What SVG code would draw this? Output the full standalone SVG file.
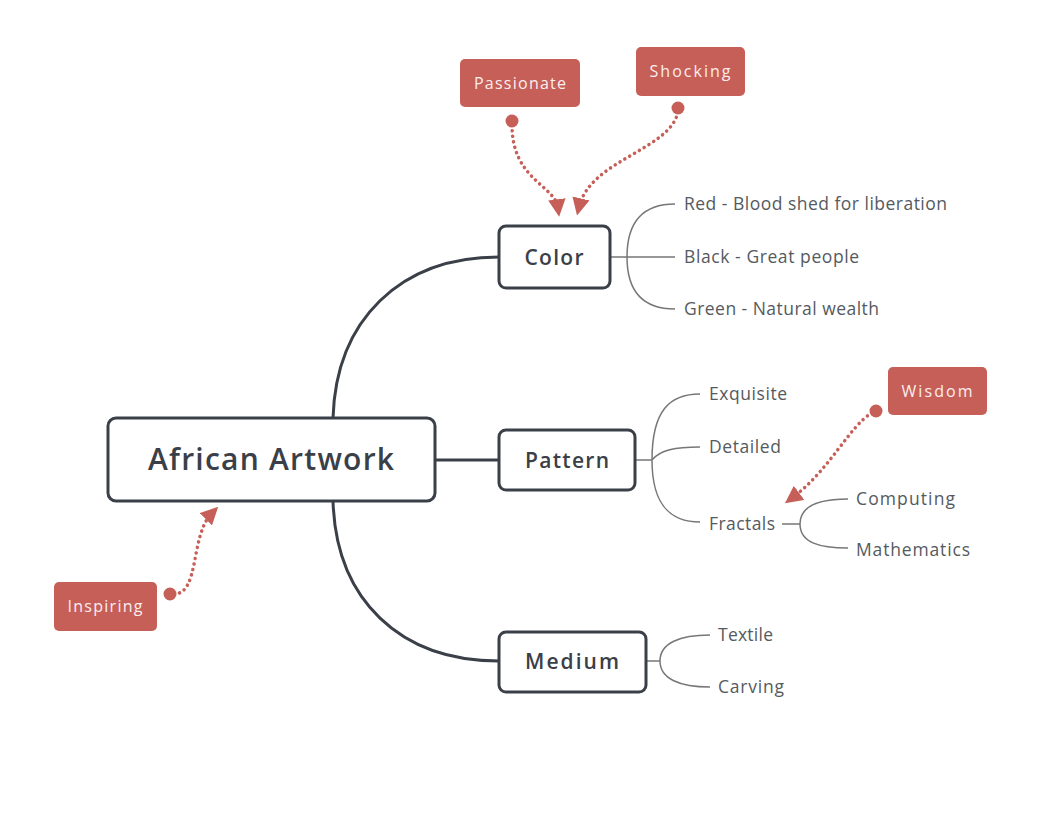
<svg xmlns="http://www.w3.org/2000/svg" width="1058" height="836" viewBox="0 0 1058 836">
<style>
.main{fill:#fff;stroke:#3b4048;stroke-width:3}
.red{fill:#c65f58}
.mt{font-family:"Open Sans","Liberation Sans",sans-serif;fill:#3b4048;font-weight:600;text-anchor:middle}
.lt{font-family:"Open Sans","Liberation Sans",sans-serif;fill:#555a60;font-size:17.5px}
.rt{font-family:"Open Sans","Liberation Sans",sans-serif;fill:#fbeeee;font-size:16px;text-anchor:middle}
.trunk{fill:none;stroke:#3b4048;stroke-width:3}
.br{fill:none;stroke:#777;stroke-width:1.5}
.dot{fill:none;stroke:#c65f58;stroke-width:3.5;stroke-dasharray:0.1 5.5;stroke-linecap:round}
</style>
<defs>
<marker id="ah" viewBox="0 0 10 10" refX="5" refY="5" markerWidth="5" markerHeight="5" markerUnits="strokeWidth" orient="auto">
<path d="M0,0 L10,5 L0,10 z" fill="#c65f58"/>
</marker>
</defs>
<rect width="1058" height="836" fill="#fff"/>
<g id="connectors">
<path class="trunk" d="M333,418 C336,320 400,257 499,257"/>
<path class="trunk" d="M435,460 L499,460"/>
<path class="trunk" d="M333,501 C336,600 400,661 499,661"/>
<path class="br" d="M610,257 L675,257 M627,257 C627,220 645,204 675,204 M627,257 C627,294 645,309 675,309"/>
<path class="br" d="M635,460 L652,460 M652,460 C652,410 670,394 700,394 M652,460 C660,450 675,447 700,447 M652,460 C652,505 670,522 700,522"/>
<path class="br" d="M782,524 L800,524 M800,524 C800,505 820,499 848,499 M800,524 C800,543 820,548 848,548"/>
<path class="br" d="M646,661 L660,661 M660,661 C660,643 680,635 710,635 M660,661 C660,679 680,687 710,687"/>
<path class="dot" d="M512,125 C512,180 555,185 558,208" marker-end="url(#ah)"/>
<path class="dot" d="M678,112 C670,150 590,160 579,207" marker-end="url(#ah)"/>
<path class="dot" d="M872,413 C850,425 830,470 792,498" marker-end="url(#ah)"/>
<path class="dot" d="M174,594 C200,594 190,535 212,513" marker-end="url(#ah)"/>
<circle cx="512" cy="121" r="6.5" fill="#c65f58"/>
<circle cx="678" cy="108" r="6.5" fill="#c65f58"/>
<circle cx="876" cy="411" r="6.5" fill="#c65f58"/>
<circle cx="170" cy="594" r="6.5" fill="#c65f58"/>
</g>
<g id="central"><rect class="main" x="108" y="418" width="327" height="83" rx="8"/><text class="mt" x="271" y="470" font-size="30" font-weight="700" textLength="246">African Artwork</text></g>
<g id="color"><rect class="main" x="499" y="226" width="111" height="62" rx="7"/><text class="mt" x="554" y="265" font-size="21" textLength="59">Color</text></g>
<g id="pattern"><rect class="main" x="499" y="430" width="136" height="60" rx="7"/><text class="mt" x="567" y="468" font-size="21" textLength="84">Pattern</text></g>
<g id="medium"><rect class="main" x="499" y="632" width="147" height="60" rx="7"/><text class="mt" x="572" y="669" font-size="21" textLength="94">Medium</text></g>
<g id="red-blood"><text class="lt" x="684" y="210" textLength="263">Red - Blood shed for liberation</text></g>
<g id="black"><text class="lt" x="684" y="263" textLength="175">Black - Great people</text></g>
<g id="green"><text class="lt" x="684" y="315" textLength="195">Green - Natural wealth</text></g>
<g id="exquisite"><text class="lt" x="709" y="400" textLength="78">Exquisite</text></g>
<g id="detailed"><text class="lt" x="709" y="453" textLength="72">Detailed</text></g>
<g id="fractals"><text class="lt" x="709" y="530" textLength="66">Fractals</text></g>
<g id="computing"><text class="lt" x="856" y="505" textLength="99">Computing</text></g>
<g id="mathematics"><text class="lt" x="856" y="556" textLength="114">Mathematics</text></g>
<g id="textile"><text class="lt" x="718" y="641" textLength="55">Textile</text></g>
<g id="carving"><text class="lt" x="718" y="693" textLength="66">Carving</text></g>
<g id="passionate"><rect class="red" x="460" y="59" width="120" height="48" rx="5"/><text class="rt" x="520" y="89" textLength="92">Passionate</text></g>
<g id="shocking"><rect class="red" x="636" y="47" width="109" height="49" rx="5"/><text class="rt" x="690" y="77" textLength="81">Shocking</text></g>
<g id="wisdom"><rect class="red" x="888" y="367" width="99" height="48" rx="5"/><text class="rt" x="937" y="397" textLength="71">Wisdom</text></g>
<g id="inspiring"><rect class="red" x="54" y="582" width="103" height="49" rx="5"/><text class="rt" x="105" y="612" textLength="75">Inspiring</text></g>
</svg>
